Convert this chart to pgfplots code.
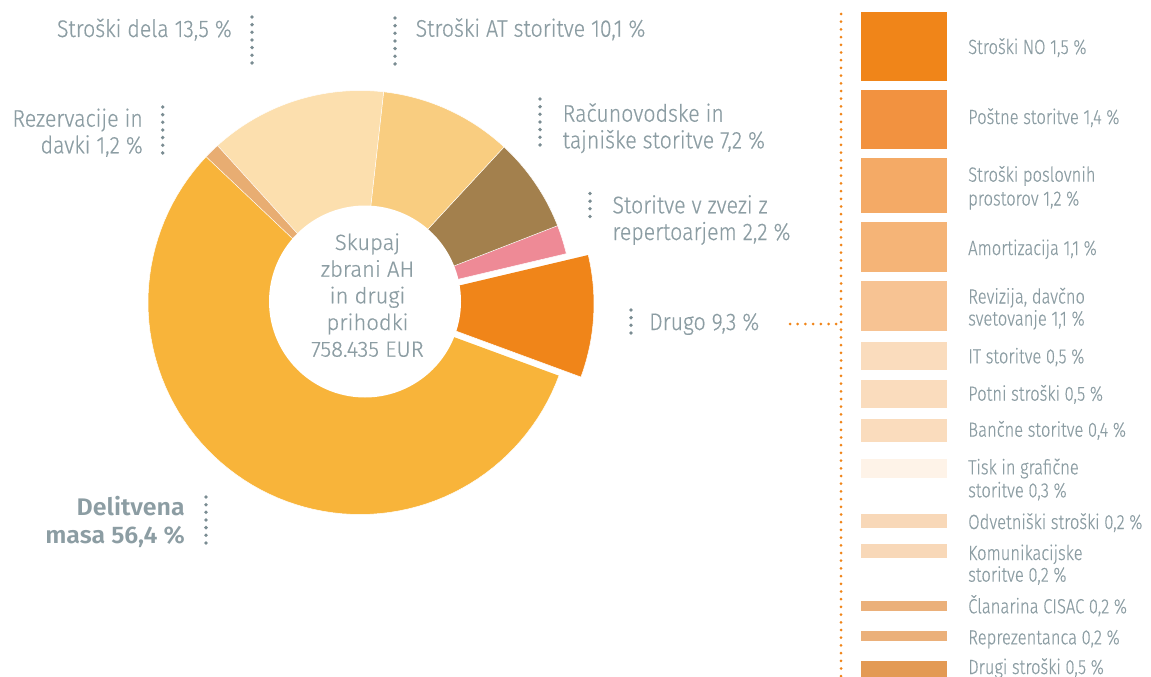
\documentclass[border=0pt]{standalone}
\usepackage{fontspec}
\usepackage{pgfplots}
\pgfplotsset{compat=1.18}
\newfontfamily\lab{Fira Sans Light}[FakeStretch=0.89, FakeBold=0.5]
\newfontfamily\rlab{Fira Sans Light}[FakeStretch=0.81, FakeBold=0.4]
\newfontfamily\ctr{Fira Sans Light}[FakeBold=0.5]
\newfontfamily\bld{Fira Sans SemiBold}[FakeStretch=1.04]
\definecolor{cDel}{HTML}{F8B43A}
\definecolor{cRez}{HTML}{E8AD72}
\definecolor{cDela}{HTML}{FCDFAE}
\definecolor{cAT}{HTML}{F9CD80}
\definecolor{cRac}{HTML}{A3804D}
\definecolor{cRep}{HTML}{EE8A96}
\definecolor{cDrugo}{HTML}{F08519}
\definecolor{cNO}{HTML}{F08519}
\definecolor{cPos}{HTML}{F29240}
\definecolor{cPro}{HTML}{F4AA66}
\definecolor{cAm}{HTML}{F5B477}
\definecolor{cRev}{HTML}{F7C393}
\definecolor{cIT}{HTML}{FADCBD}
\definecolor{cTisk}{HTML}{FEF3E8}
\definecolor{cOdv}{HTML}{F8D8B8}
\definecolor{cCl}{HTML}{EBB07A}
\definecolor{cDrugi}{HTML}{E39A54}
\definecolor{tgray}{HTML}{8C9DA3}
\definecolor{dgray}{HTML}{7A8C92}
\definecolor{dorange}{HTML}{F08519}
% pie geometry (pixels)
\def\cx{360}\def\cy{302.5}\def\R{212}
% shares (percent), counter-clockwise from Drugo
\def\vDrugo{9.3}\def\vRep{2.2}\def\vRac{7.2}\def\vAT{10.1}\def\vDela{13.5}\def\vRez{1.2}\def\vDel{56.4}
\pgfmathsetmacro\ang{360/99.9}
\pgfmathsetmacro\aO{-20.2}
\pgfmathsetmacro\aA{\aO+\vDrugo*\ang}
\pgfmathsetmacro\aB{\aA+\vRep*\ang}
\pgfmathsetmacro\aC{\aB+\vRac*\ang}
\pgfmathsetmacro\aD{\aC+\vAT*\ang}
\pgfmathsetmacro\aE{\aD+\vDela*\ang}
\pgfmathsetmacro\aF{\aE+\vRez*\ang}
\pgfmathsetmacro\aG{\aF+\vDel*\ang}
\pgfmathsetmacro\aMid{(\aO+\aA)/2}
\pgfmathsetmacro\exX{22*cos(\aMid)}
\pgfmathsetmacro\exY{-22*sin(\aMid)}
\newcommand\pieslice[5]{%
  \addplot[fill=#3, draw=white, line width=0.5pt, domain=0:80, samples=81, variable=\t]
   ({#4+\cx+(\t>0.5)*\R*cos(#1+(\t-1)*(#2-#1)/79)},
    {#5+\cy-(\t>0.5)*\R*sin(#1+(\t-1)*(#2-#1)/79)});}
\newcommand\brect[3]{%
  \addplot[fill=#3, draw=none] coordinates {(861,#1) (947,#1) (947,#2) (861,#2)};}
\newcommand\leader[4]{% x, y0, y1, color
  \addplot[draw=#4, line width=3.8pt, line cap=round, dash pattern=on 0pt off 7.65pt] coordinates {(#1,#2) (#1,#3)};}
\tikzset{L/.style={inner sep=0pt, text=tgray, font=\lab\fontsize{24}{27}\selectfont},
         RL/.style={inner sep=0pt, text=tgray, anchor=base west, font=\rlab\fontsize{20.5}{24}\selectfont},
         C/.style={inner sep=0pt, text=tgray, anchor=base, font=\ctr\fontsize{22}{26}\selectfont}}
\begin{document}
\begin{tikzpicture}
\begin{axis}[hide axis, scale only axis, width=1151pt, height=677pt,
  xmin=0, xmax=1151, ymin=0, ymax=677, y dir=reverse, clip=false]
% donut
\pieslice{\aO}{\aA}{cDrugo}{\exX}{\exY}
\pieslice{\aA}{\aB}{cRep}{0}{0}
\pieslice{\aB}{\aC}{cRac}{0}{0}
\pieslice{\aC}{\aD}{cAT}{0}{0}
\pieslice{\aD}{\aE}{cDela}{0}{0}
\pieslice{\aE}{\aF}{cRez}{0}{0}
\pieslice{\aF}{\aG}{cDel}{0}{0}
\addplot[fill=white, draw=none, domain=0:360, samples=121] ({365+96*cos(x)}, {301.5-96*sin(x)});
% breakdown of Drugo
\brect{12}{80.7}{cNO}
\brect{90}{148.7}{cPos}
\brect{158}{212.7}{cPro}
\brect{222}{271.7}{cAm}
\brect{281}{330.7}{cRev}
\brect{342}{369.7}{cIT}
\brect{380}{407.7}{cIT}
\brect{419}{441.7}{cIT}
\brect{459}{477.7}{cTisk}
\brect{514}{528}{cOdv}
\brect{544}{557.7}{cOdv}
\brect{601}{611}{cCl}
\brect{631}{641}{cCl}
\brect{661}{690}{cDrugi}
% dotted leaders
\leader{252}{17}{70}{dgray}
\leader{395}{18}{64}{dgray}
\leader{162.7}{107}{159}{dgray}
\leader{540}{99}{152}{dgray}
\leader{590}{193.5}{222}{dgray}
\leader{631}{310}{339}{dgray}
\leader{206}{497}{550}{dgray}
\addplot[draw=dorange, line width=3pt, line cap=round, dash pattern=on 0pt off 7.7pt] coordinates {(841,14) (841,690)};
\addplot[draw=dorange, line width=3pt, line cap=round, dash pattern=on 0pt off 7.7pt] coordinates {(790,324) (838,324)};
% left/top labels
\node[L, anchor=base east] at (axis cs:232,37) {Stroški dela 13,5 \%};
\node[L, anchor=base west] at (axis cs:415.5,36.7) {Stroški AT storitve 10,1 \%};
\node[L, anchor=base east] at (axis cs:143,126.7) {Rezervacije in};
\node[L, anchor=base east] at (axis cs:143,153.3) {davki 1,2 \%};
\node[L, anchor=base west] at (axis cs:562.5,121.7) {Računovodske in};
\node[L, anchor=base west] at (axis cs:562.5,148.3) {tajniške storitve 7,2 \%};
\node[L, anchor=base west] at (axis cs:612.3,213.3) {Storitve v zvezi z};
\node[L, anchor=base west] at (axis cs:612.3,240) {repertoarjem 2,2 \%};
\node[L, anchor=base west] at (axis cs:649,330) {Drugo 9,3 \%};
\node[inner sep=0pt, text=tgray, font=\bld\fontsize{24}{27}\selectfont, anchor=base east] at (axis cs:185,515.7) {Delitvena};
\node[inner sep=0pt, text=tgray, font=\bld\fontsize{24}{27}\selectfont, anchor=base east] at (axis cs:185,543.3) {masa 56,4 \%};
% centre
\node[C] at (axis cs:367.5,250) {Skupaj};
\node[C] at (axis cs:367.5,276.7) {zbrani AH};
\node[C] at (axis cs:367.5,303.3) {in drugi};
\node[C] at (axis cs:367.5,330) {prihodki};
\node[C] at (axis cs:367.5,356.7) {758.435 EUR};
% right labels
\node[RL] at (axis cs:968,54) {Stroški NO 1,5 \%};
\node[RL] at (axis cs:968,124) {Poštne storitve 1,4 \%};
\node[RL] at (axis cs:968,181.7) {Stroški poslovnih};
\node[RL] at (axis cs:968,205.5) {prostorov 1,2 \%};
\node[RL] at (axis cs:968,255) {Amortizacija 1,1 \%};
\node[RL] at (axis cs:968,303.5) {Revizija, davčno};
\node[RL] at (axis cs:968,325.5) {svetovanje 1,1 \%};
\node[RL] at (axis cs:968,363.3) {IT storitve 0,5 \%};
\node[RL] at (axis cs:968,400.7) {Potni stroški 0,5 \%};
\node[RL] at (axis cs:968,436.7) {Bančne storitve 0,4 \%};
\node[RL] at (axis cs:968,474.3) {Tisk in grafične};
\node[RL] at (axis cs:968,497.3) {storitve 0,3 \%};
\node[RL] at (axis cs:968,529) {Odvetniški stroški 0,2 \%};
\node[RL] at (axis cs:968,560) {Komunikacijske};
\node[RL] at (axis cs:968,581.7) {storitve 0,2 \%};
\node[RL] at (axis cs:968,613.3) {Članarina CISAC 0,2 \%};
\node[RL] at (axis cs:968,644.3) {Reprezentanca 0,2 \%};
\node[RL] at (axis cs:968,674) {Drugi stroški 0,5 \%};
\end{axis}
\pgfresetboundingbox
\path[use as bounding box] (current axis.south west) rectangle (current axis.north east);
\end{tikzpicture}
\end{document}
